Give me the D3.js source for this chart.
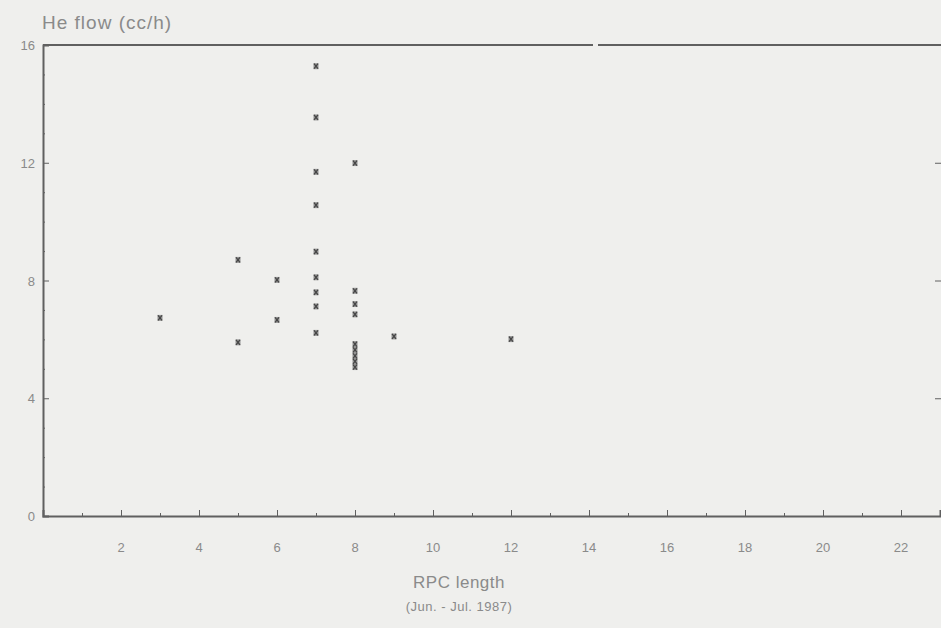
<!DOCTYPE html>
<html>
<head>
<meta charset="utf-8">
<script src="https://cdn.jsdelivr.net/npm/d3@7"></script>
<style>
  html, body { margin: 0; padding: 0; background: #efefed; }
  svg { display: block; }
  text { font-family: "Liberation Sans", "DejaVu Sans", sans-serif; fill: #8a8a8a; }
</style>
</head>
<body>
<svg id="chart" width="941" height="628"></svg>
<script>
// ---- data ----
const rpcLength = [3, 5, 5, 6, 6,
  7, 7, 7, 7, 7, 7, 7, 7, 7,
  8, 8, 8, 8, 8, 8, 8, 8, 8,
  9, 12];
const heFlow = [6.73, 8.70, 5.90, 8.02, 6.66,
  15.28, 13.54, 11.69, 10.56, 8.98, 8.11, 7.60, 7.12, 6.22,
  11.99, 7.65, 7.20, 6.85, 5.84, 5.64, 5.44, 5.25, 5.06,
  6.10, 6.01];
const xTicks = [2, 4, 6, 8, 10, 12, 14, 16, 18, 20, 22];
const xMinorTicks = [1, 3, 5, 7, 9, 11, 13, 15, 17, 19, 21, 23];
const yTicks = [0, 4, 8, 12, 16];
const yMinorTicks = [1, 2, 3, 5, 6, 7, 9, 10, 11, 13, 14, 15];
const yLabel = "He flow (cc/h)";
const xLabel = "RPC length";
const subLabel = "(Jun. - Jul. 1987)";

// ---- layout ----
const svg = d3.select("#chart");
const mLeft = 43, mRight = 940, mTop = 45, mBottom = 516;
const x = d3.scaleLinear().domain([0, 23]).range([mLeft, mRight]);
const y = d3.scaleLinear().domain([0, 16]).range([mBottom, mTop]);
const ink = "#606060";

const g = svg.append("g");
// top frame line with a small gap
g.append("line").attr("x1", mLeft).attr("x2", 593).attr("y1", mTop).attr("y2", mTop)
  .attr("stroke", ink).attr("stroke-width", 2);
g.append("line").attr("x1", 598).attr("x2", 941).attr("y1", mTop).attr("y2", mTop)
  .attr("stroke", ink).attr("stroke-width", 2);

// left axis
const yAxis = d3.axisRight(y).tickValues(yTicks).tickSize(6).tickFormat("");
const ya = g.append("g").attr("transform", `translate(${mLeft},0)`).call(yAxis);
ya.select(".domain").attr("stroke", ink).attr("stroke-width", 2);
ya.selectAll(".tick line").attr("stroke", ink).attr("stroke-width", 1);
const yMinor = d3.axisRight(y).tickValues(yMinorTicks).tickSize(2).tickFormat("");
const ym = g.append("g").attr("transform", `translate(${mLeft},0)`).call(yMinor);
ym.select(".domain").remove();
ym.selectAll(".tick line").attr("stroke", ink).attr("stroke-width", 1);

// y tick labels
g.selectAll(".ylab").data(yTicks).join("text")
  .attr("class", "ylab")
  .attr("x", 35).attr("y", d => y(d) + 5)
  .attr("text-anchor", "end")
  .attr("font-size", 13)
  .text(d => d);

// right-side ticks
const yRight = d3.axisLeft(y).tickValues([4, 8, 12]).tickSize(6).tickFormat("");
const yr = g.append("g").attr("transform", `translate(941,0)`).call(yRight);
yr.select(".domain").remove();
yr.selectAll(".tick line").attr("stroke", ink).attr("stroke-width", 1);

// bottom axis
const xAxis = d3.axisTop(x).tickValues(xTicks).tickSize(6).tickFormat("");
const xa = g.append("g").attr("transform", `translate(0,${mBottom})`).call(xAxis);
xa.select(".domain").attr("stroke", ink).attr("stroke-width", 2);
xa.selectAll(".tick line").attr("stroke", ink).attr("stroke-width", 1);
const xMinor = d3.axisTop(x).tickValues(xMinorTicks).tickSize(3).tickFormat("");
const xm = g.append("g").attr("transform", `translate(0,${mBottom})`).call(xMinor);
xm.select(".domain").remove();
xm.selectAll(".tick line").attr("stroke", ink).attr("stroke-width", 1);

// x tick labels
g.selectAll(".xlab").data(xTicks).join("text")
  .attr("class", "xlab")
  .attr("x", d => x(d)).attr("y", mBottom + 36)
  .attr("text-anchor", "middle")
  .attr("font-size", 13)
  .text(d => d);

// titles
svg.append("text").attr("x", 42).attr("y", 29)
  .attr("font-size", 19).attr("letter-spacing", 1).text(yLabel);
svg.append("text").attr("x", 459).attr("y", 588)
  .attr("text-anchor", "middle").attr("font-size", 17).attr("letter-spacing", 0.5).text(xLabel);
svg.append("text").attr("x", 459).attr("y", 611)
  .attr("text-anchor", "middle").attr("font-size", 13).attr("letter-spacing", 0.5).text(subLabel);

// points
const pts = rpcLength.map((d, i) => ({ x: d, y: heFlow[i] }));
const pg = svg.append("g");
pg.selectAll("rect.pt").data(pts).join("rect")
  .attr("class", "pt")
  .attr("x", d => x(d.x) - 2.5).attr("y", d => y(d.y) - 3)
  .attr("width", 5).attr("height", 6)
  .attr("fill", "#707070").attr("opacity", 0.7);
pg.selectAll("path.pt").data(pts).join("path")
  .attr("class", "pt")
  .attr("d", d => {
    const cx = x(d.x), cy = y(d.y);
    return `M${cx-2},${cy-2.5}L${cx+2},${cy+2.5}M${cx+2},${cy-2.5}L${cx-2},${cy+2.5}`;
  })
  .attr("stroke", "#444").attr("stroke-width", 1.2).attr("fill", "none");
</script>
</body>
</html>
